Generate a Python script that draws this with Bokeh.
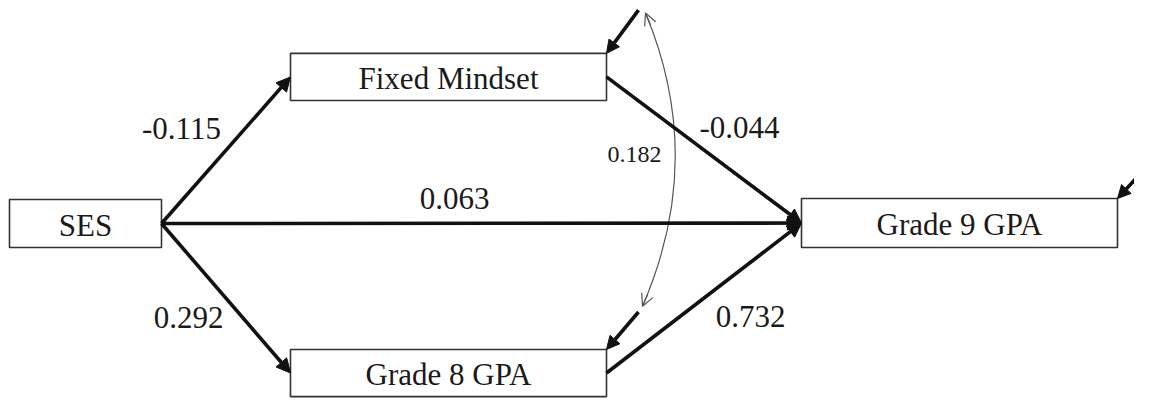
from bokeh.plotting import figure
from bokeh.models import Arrow, NormalHead, OpenHead, Range1d
from bokeh.core.properties import value
from bokeh.embed import file_html
from bokeh.resources import INLINE

# ---- data ----
node_names = ["SES", "Fixed Mindset", "Grade 8 GPA", "Grade 9 GPA"]
node_left = [9, 290, 290, 801]
node_right = [161, 606, 606, 1117]
node_top = [207, 55, 363, 206]
node_bottom = [257, 104, 412, 257]

edge_from = [0, 0, 0, 1, 2]
edge_to = [1, 3, 2, 3, 3]
edge_coef = ["-0.115", "0.063", "0.292", "-0.044", "0.732"]
coef_x = [181, 454, 188, 739, 750]
coef_y = [143, 216, 340, 142, 339]

resid_nodes = [1, 2, 3]
resid_dx = [32, 32, 32]
resid_dy = [-45, -39, -36]

cov_label = "0.182"
cov_label_x = 634
cov_label_y = 168
cov_x = [645, 642]
cov_y = [13, 318]
cov_ctrl = (706, 165)

FONT = value("Liberation Serif")
TXT_SHIFT = 10

p = figure(width=1134, height=398, output_backend="svg", toolbar_location=None,
           x_range=Range1d(0, 1134), y_range=Range1d(414, 0),
           x_axis_type=None, y_axis_type=None, min_border=0)
p.grid.visible = False
p.outline_line_color = None
p.background_fill_color = "white"
p.border_fill_color = "white"

def mid_left(i):
    return node_left[i], (node_top[i] + node_bottom[i]) / 2

def mid_right(i):
    return node_right[i], (node_top[i] + node_bottom[i]) / 2

# structural paths
for f, t in zip(edge_from, edge_to):
    xs, ys = mid_right(f)
    xe, ye = mid_left(t)
    p.add_layout(Arrow(end=NormalHead(size=14, fill_color="#111111", line_color="#111111", line_width=1),
                       x_start=xs, y_start=ys, x_end=xe, y_end=ye,
                       line_width=3.6, line_color="#111111"))

# residual arrows
for n, dx, dy in zip(resid_nodes, resid_dx, resid_dy):
    xe, ye = node_right[n], node_top[n]
    p.add_layout(Arrow(end=NormalHead(size=13, fill_color="#111111", line_color="#111111", line_width=1),
                       x_start=xe + dx, y_start=ye + dy, x_end=xe, y_end=ye,
                       line_width=3.6, line_color="#111111"))

# covariance curve
cx, cy = cov_ctrl
p.quadratic(x0=[cov_x[0]], y0=[cov_y[0]], x1=[cov_x[1]], y1=[cov_y[1]], cx=[cx], cy=[cy],
            line_color="#555555", line_width=1.2)
for ex, ey in zip(cov_x, cov_y):
    sx = ex + 0.08 * (cx - ex)
    sy = ey + 0.08 * (cy - ey)
    p.add_layout(Arrow(end=OpenHead(size=12, line_width=1.2, line_color="#555555"),
                       x_start=sx, y_start=sy, x_end=ex, y_end=ey,
                       line_width=1.2, line_color="#555555"))

# boxes
p.quad(left=node_left, right=node_right, top=node_top, bottom=node_bottom,
       fill_color="white", line_color="#333333", line_width=1.6)

# box labels
lx = [(a + b) / 2 for a, b in zip(node_left, node_right)]
ly = [(a + b) / 2 + 12 - TXT_SHIFT for a, b in zip(node_top, node_bottom)]
p.text(x=lx, y=ly, text=node_names, text_font=FONT, text_font_size="31px",
       text_align="center", text_baseline="alphabetic", text_color="#1a1a1a")

# coefficients
p.text(x=coef_x, y=[v - TXT_SHIFT for v in coef_y], text=edge_coef, text_font=FONT,
       text_font_size="31px", text_align="center", text_baseline="alphabetic", text_color="#1a1a1a")
p.text(x=[cov_label_x], y=[cov_label_y - 8], text=[cov_label], text_font=FONT, text_font_size="24px",
       text_align="center", text_baseline="alphabetic", text_color="#1a1a1a")

open("out.html", "w").write(file_html(p, INLINE))
